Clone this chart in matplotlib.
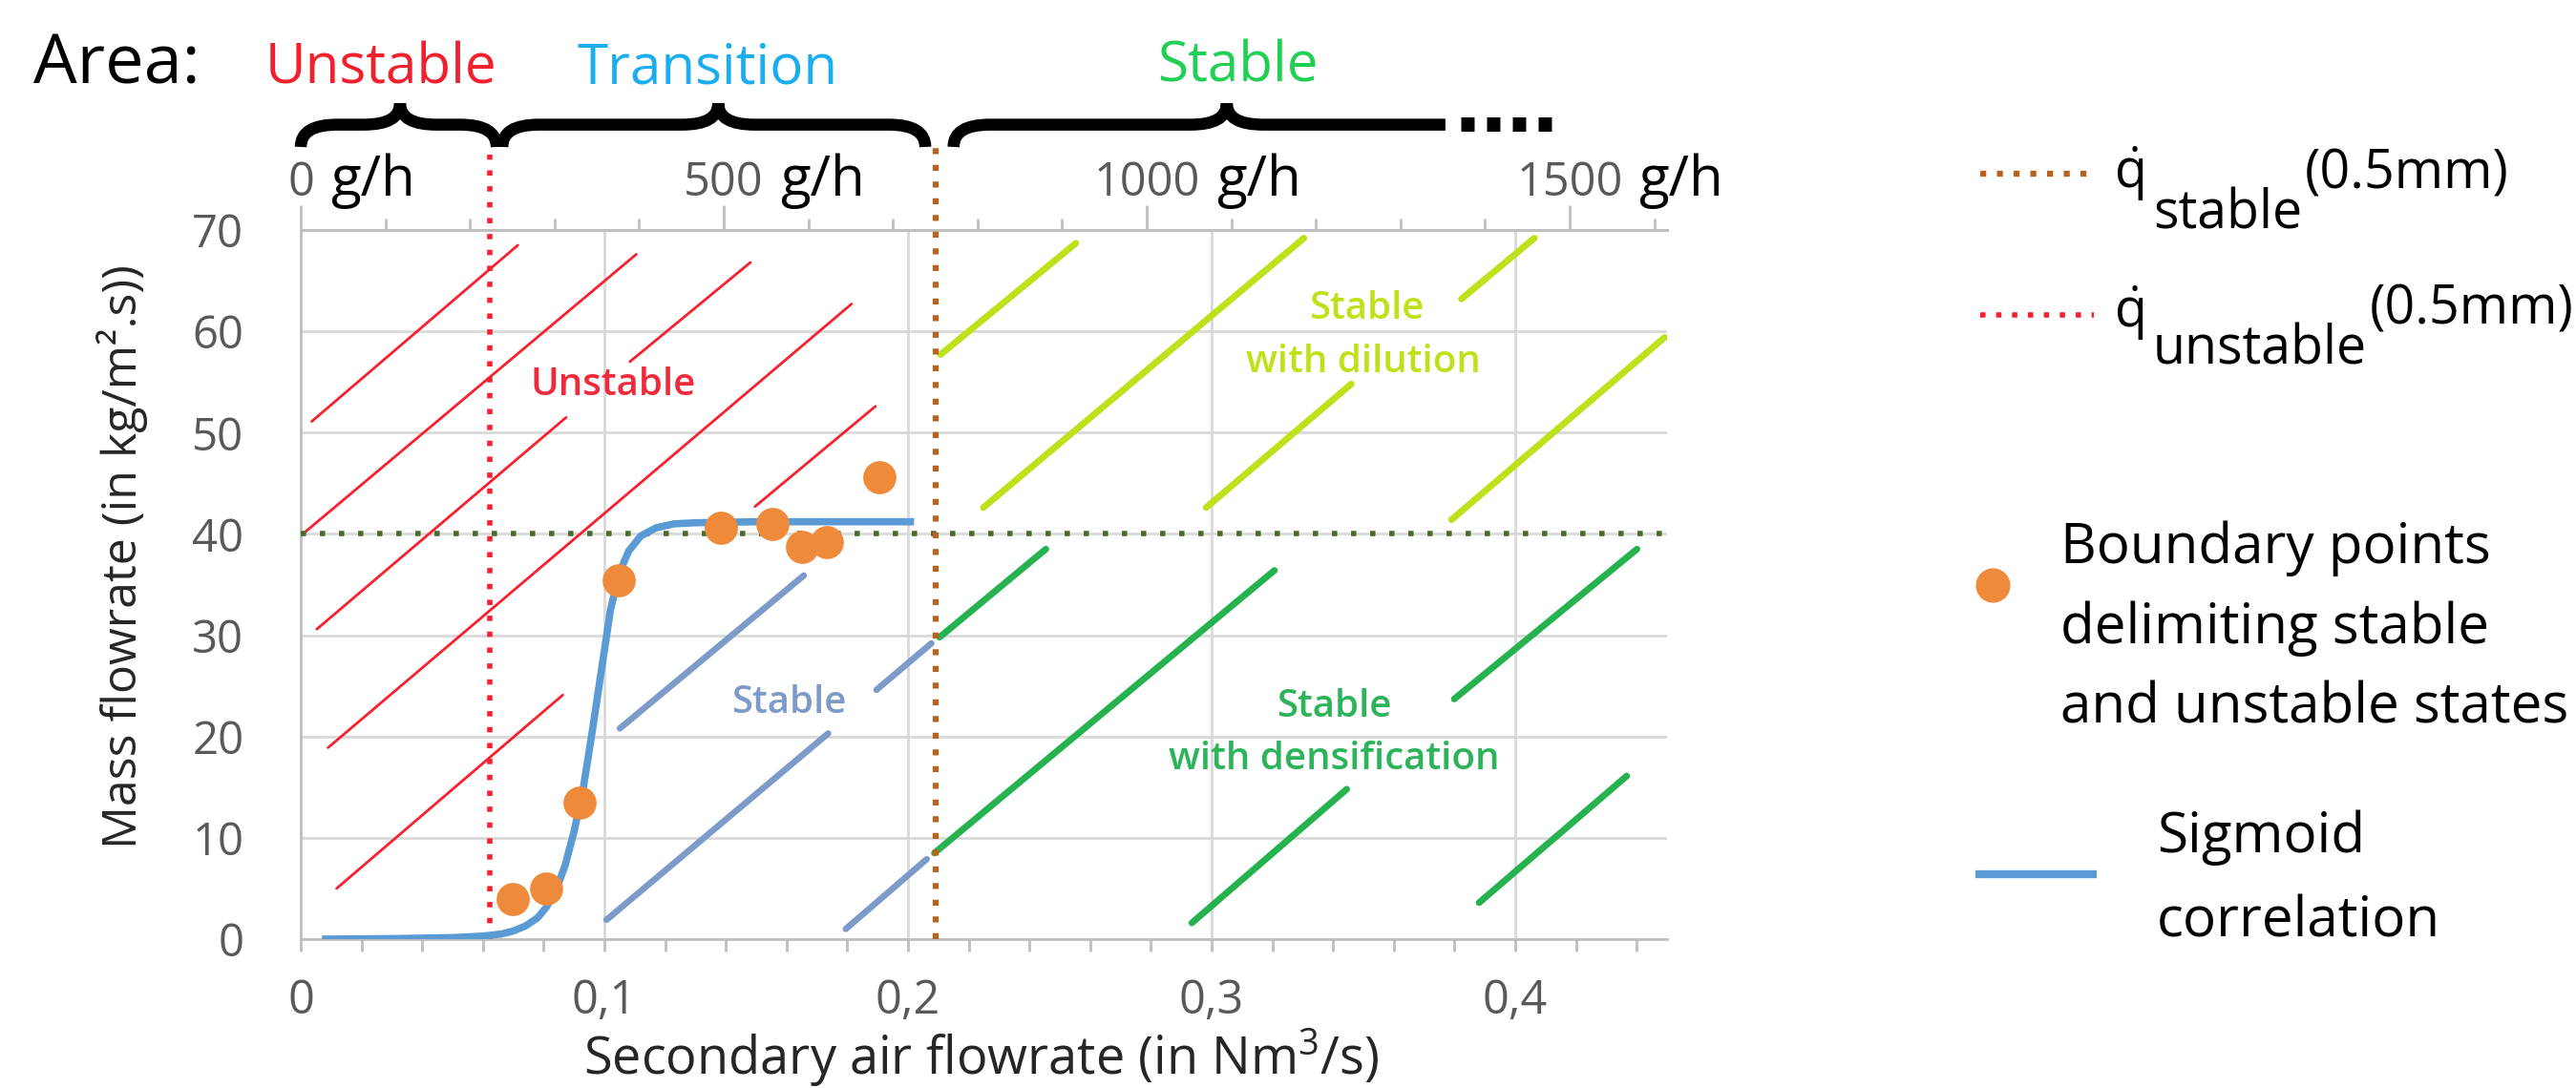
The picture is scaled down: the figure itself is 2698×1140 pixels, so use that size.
import matplotlib
matplotlib.use('Agg')
import matplotlib.pyplot as plt
from matplotlib.path import Path
from matplotlib.patches import PathPatch
from matplotlib.lines import Line2D
from matplotlib.ticker import MultipleLocator, FixedLocator

plt.rcParams['font.family'] = ['Open Sans', 'DejaVu Sans']
plt.rcParams['mathtext.fontset'] = 'custom'
plt.rcParams['mathtext.rm'] = 'Open Sans'
plt.rcParams['mathtext.it'] = 'Open Sans:italic'
plt.rcParams['mathtext.bf'] = 'Open Sans:bold'

# ---------------- data ----------------
xtick_vals = [0.0, 0.1, 0.2, 0.3, 0.4]
xtick_labels = ["0", "0,1", "0,2", "0,3", "0,4"]
ytick_vals = [0, 10, 20, 30, 40, 50, 60, 70]
gh_major = [0, 500, 1000, 1500]
gh_labels = ["0", "500", "1000", "1500"]
nm3_per_500gh = 0.1393

# boundary points
pt_x = [0.0697, 0.0809, 0.0918, 0.1048, 0.1384, 0.1553, 0.1652, 0.1734, 0.1905]
pt_y = [4.0, 5.0, 13.5, 35.4, 40.6, 41.0, 38.7, 39.2, 45.6]

# sigmoid correlation
sig_x = [0.007, 0.03, 0.05, 0.06, 0.066, 0.070, 0.074, 0.078, 0.081, 0.084, 0.087,
         0.090, 0.093, 0.096, 0.099, 0.102, 0.105, 0.108, 0.112, 0.117, 0.123,
         0.130, 0.150, 0.180, 0.202]
sig_y = [0.0, 0.05, 0.15, 0.3, 0.5, 0.8, 1.3, 2.1, 3.2, 4.8, 7.2,
         10.6, 14.8, 20.5, 26.5, 32.5, 36.2, 38.3, 39.8, 40.6, 41.0,
         41.1, 41.2, 41.2, 41.2]

# threshold lines
q_unstable_x = 0.0622
q_stable_x = 0.209
q_mass_y = 40.0

# hatch segments (x0, y0) -> (x1, y1)
red_x0 = [0.0036, 0.0007, 0.1084, 0.0053, 0.0090, 0.0118, 0.1496]
red_y0 = [51.1, 40.0, 57.0, 30.6, 18.9, 5.0, 42.7]
red_x1 = [0.0715, 0.1105, 0.1481, 0.0874, 0.1814, 0.0863, 0.1893]
red_y1 = [68.5, 67.6, 66.8, 51.5, 62.7, 24.1, 52.6]

blue_x0 = [0.1051, 0.1007, 0.1896, 0.1795]
blue_y0 = [20.8, 1.9, 24.6, 1.0]
blue_x1 = [0.1657, 0.1737, 0.2077, 0.2062]
blue_y1 = [35.9, 20.3, 29.2, 7.9]

yg_x0 = [0.2107, 0.2248, 0.3823, 0.2982, 0.3790]
yg_y0 = [57.7, 42.6, 63.2, 42.6, 41.4]
yg_x1 = [0.2553, 0.3304, 0.4063, 0.3460, 0.4492]
yg_y1 = [68.7, 69.2, 69.2, 54.8, 59.4]

gr_x0 = [0.2104, 0.2087, 0.3799, 0.2935, 0.3881]
gr_y0 = [29.8, 8.5, 23.7, 1.6, 3.6]
gr_x1 = [0.2454, 0.3207, 0.4401, 0.3445, 0.4367]
gr_y1 = [38.5, 36.4, 38.5, 14.8, 16.1]

# braces: (start, end, tip, right hook)
brace_x0 = [0.0, 0.0664, 0.215]
brace_x1 = [0.0645, 0.2057, 0.377]
brace_xc = [0.0327, 0.1375, 0.305]
brace_hook = [True, True, False]
brace_dash_x = [0.382, 0.4125]

# ---------------- styles ----------------
W, H = 2698, 1140
GRID = '#d9d9d9'
SPINE = '#bfbfbf'
TICKTXT = '#595959'
RED = '#f8202f'
STEEL = '#7d9bc9'
YGREEN = '#bde21c'
GREEN = '#25b24f'
BROWN = '#b8621e'
DKGREEN = '#4b6b2e'
ORANGE = '#ef8a3b'
SIGBLUE = '#5b9bd5'


def fx(px):
    return px / W


def fy(py):
    return 1 - py / H


fig = plt.figure(figsize=(W / 100, H / 100), dpi=100)
ax = fig.add_axes([fx(315), fy(984), (1746 - 315) / W, (984 - 241) / H])
ax.set_xlim(0, 0.45)
ax.set_ylim(0, 70)

# grid & spines
ax.set_axisbelow(True)
ax.grid(True, which='major', color=GRID, lw=2.0)
for s in ['left', 'bottom', 'top']:
    ax.spines[s].set_color(SPINE)
    ax.spines[s].set_linewidth(2)
ax.spines['right'].set_visible(False)

ax.xaxis.set_major_locator(FixedLocator(xtick_vals))
ax.set_xticklabels(xtick_labels)
ax.xaxis.set_minor_locator(MultipleLocator(0.02))
ax.set_yticks(ytick_vals)
ax.tick_params(axis='x', which='both', direction='out', length=9.5, width=2,
               color=SPINE, labelsize=35, labelcolor=TICKTXT, pad=20, top=False)
ax.tick_params(axis='y', which='both', length=0, labelsize=34,
               labelcolor=TICKTXT, pad=43)

# secondary (g/h) axis
k = nm3_per_500gh / 500.0
sec = ax.secondary_xaxis('top', functions=(lambda x: x / k, lambda g: g * k))
sec.xaxis.set_major_locator(FixedLocator(gh_major))
sec.xaxis.set_minor_locator(MultipleLocator(100))
sec.tick_params(which='major', direction='out', length=19, width=2, color=SPINE,
                labeltop=False)
sec.tick_params(which='minor', direction='out', length=8.5, width=2, color=SPINE)
sec.spines['top'].set_color(SPINE)
sec.spines['top'].set_linewidth(2)

# hatch lines
for xs0, ys0, xs1, ys1, c, lw in [
        (red_x0, red_y0, red_x1, red_y1, RED, 2.0),
        (blue_x0, blue_y0, blue_x1, blue_y1, STEEL, 4.8),
        (yg_x0, yg_y0, yg_x1, yg_y1, YGREEN, 5.0),
        (gr_x0, gr_y0, gr_x1, gr_y1, GREEN, 5.0)]:
    for a, b, cc, d in zip(xs0, ys0, xs1, ys1):
        ax.plot([a, cc], [b, d], color=c, lw=lw, solid_capstyle='round', zorder=2)

# threshold dotted lines
ax.plot([0, 0.45], [q_mass_y, q_mass_y], color=DKGREEN, lw=4,
        linestyle=(0, (1, 2.6)), zorder=3, clip_on=False)
ax.plot([q_unstable_x, q_unstable_x], [0, 77.4], color=RED, lw=4,
        linestyle=(0, (1, 2.0)), zorder=3, clip_on=False)
ax.plot([q_stable_x, q_stable_x], [0, 78.9], color=BROWN, lw=4.5,
        linestyle=(0, (1, 1.8)), zorder=3, clip_on=False)

# sigmoid and points
ax.plot(sig_x, sig_y, color=SIGBLUE, lw=5.5, solid_capstyle='butt', zorder=4)
ax.plot(pt_x, pt_y, 'o', color=ORANGE, ms=25, mec='none', zorder=5)

# region labels
ax.text(0.1029, 54.6, "Unstable", color='#ee2a3c', fontsize=29,
        fontweight='semibold', ha='center', va='center', zorder=6)
ax.text(0.1607, 23.3, "Stable", color=STEEL, fontsize=29,
        fontweight='semibold', ha='center', va='center', zorder=6)
ax.text(0.3510, 62.2, "Stable", color='#c2e01a', fontsize=29,
        fontweight='semibold', ha='center', va='center', zorder=6)
ax.text(0.3500, 56.9, "with dilution", color='#c2e01a', fontsize=29,
        fontweight='semibold', ha='center', va='center', zorder=6)
ax.text(0.3404, 22.9, "Stable", color='#2db35a', fontsize=29,
        fontweight='semibold', ha='center', va='center', zorder=6)
ax.text(0.3404, 17.7, "with densification", color='#2db35a', fontsize=29,
        fontweight='semibold', ha='center', va='center', zorder=6)

# braces
yb, ym, yt, r = 78.2, 80.4, 82.5, 0.012
for x0, x1, xc, hook in zip(brace_x0, brace_x1, brace_xc, brace_hook):
    verts = [(x0, yb), (x0, ym), (x0 + r, ym), (xc - r, ym), (xc, ym), (xc, yt),
             (xc, yt), (xc, ym), (xc + r, ym)]
    codes = [Path.MOVETO, Path.CURVE3, Path.CURVE3, Path.LINETO, Path.CURVE3,
             Path.CURVE3, Path.MOVETO, Path.CURVE3, Path.CURVE3]
    if hook:
        verts += [(x1 - r, ym), (x1, ym), (x1, yb)]
        codes += [Path.LINETO, Path.CURVE3, Path.CURVE3]
    else:
        verts += [(x1, ym)]
        codes += [Path.LINETO]
    ax.add_patch(PathPatch(Path(verts, codes), fill=False, ec='black', lw=9,
                           capstyle='butt', joinstyle='round', clip_on=False,
                           transform=ax.transData))
ax.plot(brace_dash_x, [80.5, 80.5], color='black', lw=10.8,
        linestyle=(0, (0.93, 0.87)), dash_capstyle='butt', clip_on=False)

# header
fig.text(fx(35), fy(88), "Area:", fontsize=52, color='black', va='baseline')
fig.text(fx(399), fy(87), "Unstable", fontsize=42, color='#f0202e',
         ha='center', va='baseline')
fig.text(fx(741), fy(87), "Transition", fontsize=42, color='#1aaef0',
         ha='center', va='baseline')
fig.text(fx(1296), fy(86), "Stable", fontsize=42, color='#22cf55',
         ha='center', va='baseline')

# axis titles
fig.text(fx(1028), fy(1126), "Secondary air flowrate (in Nm$^3$/s)",
         fontsize=39, color='#262626', ha='center', va='baseline')
fig.text(fx(128), fy(583), "Mass flowrate (in kg/m\u00b2.s))", fontsize=36,
         color='#262626', rotation=90, ha='center', va='center')

# top g/h labels
ytop = 1 + (241 - 205) / (984 - 241)
num_texts = []
for g, lab in zip(gh_major, gh_labels):
    t = ax.text(g * k, ytop, lab, transform=ax.get_xaxis_transform(),
                ha='center', va='baseline', fontsize=35, color=TICKTXT)
    num_texts.append(t)

# legend
fig.add_artist(Line2D([fx(2074), fx(2193)], [fy(182), fy(182)], color=BROWN,
                      lw=4.5, linestyle=(0, (1, 1.8)), transform=fig.transFigure))
fig.add_artist(Line2D([fx(2074), fx(2193)], [fy(330), fy(330)], color=RED,
                      lw=4, linestyle=(0, (1, 2.0)), transform=fig.transFigure))
fig.add_artist(Line2D([fx(2087)], [fy(613)], marker='o', ms=26, color=ORANGE,
                      mec='none', transform=fig.transFigure))
fig.add_artist(Line2D([fx(2069), fx(2196)], [fy(916), fy(916)], color=SIGBLUE,
                      lw=6, solid_capstyle='butt', transform=fig.transFigure))

fig.text(fx(2214), fy(197), r"$\dot{\mathrm{q}}$", fontsize=40, va='baseline')
sub1 = fig.text(fx(2255), fy(240), "stable", fontsize=40, va='baseline')
fig.text(fx(2214), fy(343), r"$\dot{\mathrm{q}}$", fontsize=40, va='baseline')
sub2 = fig.text(fx(2255), fy(382), "unstable", fontsize=40, va='baseline')

for txt, yy in zip(["Boundary points", "delimiting stable", "and unstable states"],
                   [590, 674, 758]):
    fig.text(fx(2158), fy(yy), txt, fontsize=42, va='baseline')
fig.text(fx(2259), fy(893), "Sigmoid", fontsize=42, va='baseline')
fig.text(fx(2259), fy(982), "correlation", fontsize=42, va='baseline')

fig.canvas.draw()
rend = fig.canvas.get_renderer()
for t, g in zip(num_texts, gh_major):
    w = t.get_window_extent(rend).width
    ax.annotate("g/h", xy=(g * k, ytop), xycoords=ax.get_xaxis_transform(),
                xytext=((w / 2 + 17) * 0.72, 0), textcoords='offset points',
                ha='left', va='baseline', fontsize=42, color='black',
                annotation_clip=False)
for sub, yy in [(sub1, 197), (sub2, 340)]:
    bb = sub.get_window_extent(rend)
    fig.text((bb.x1 + 3) / W, fy(yy), "(0.5mm)", fontsize=40, va='baseline')

fig.savefig('out.png', dpi=100)
